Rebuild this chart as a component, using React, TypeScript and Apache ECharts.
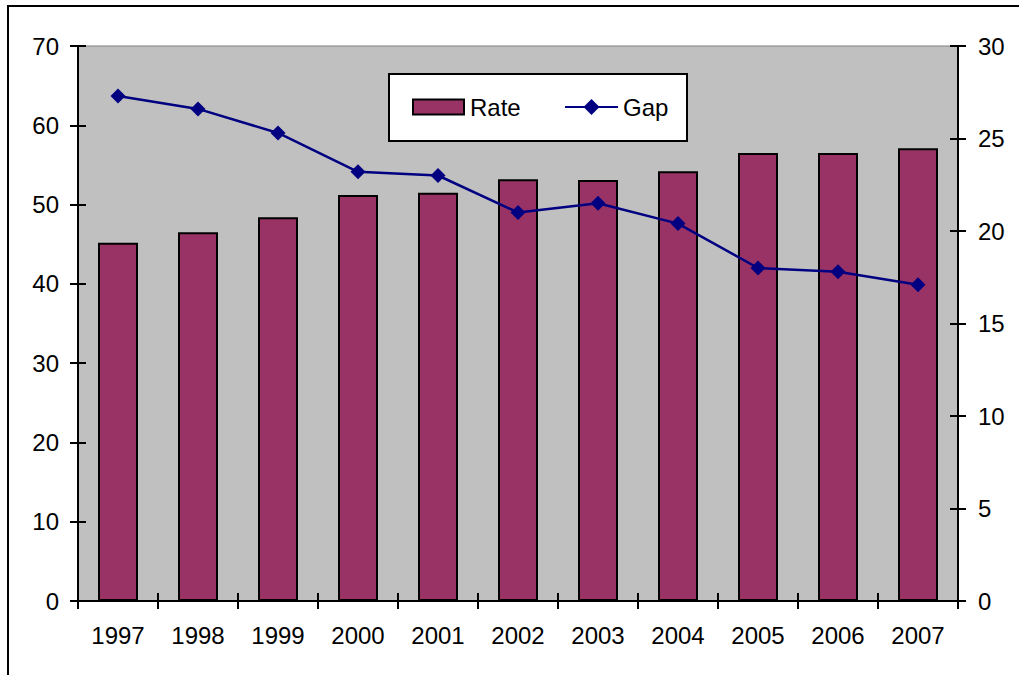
import React, { useEffect, useRef } from "react";
import * as echarts from "echarts";

const years = ["1997", "1998", "1999", "2000", "2001", "2002", "2003", "2004", "2005", "2006", "2007"];
const rate = [45.2, 46.5, 48.4, 51.2, 51.5, 53.2, 53.1, 54.2, 56.5, 56.5, 57.1];
const gap = [27.3, 26.6, 25.3, 23.2, 23.0, 21.0, 21.5, 20.4, 18.0, 17.8, 17.1];

const FONT = "'Liberation Sans', Arial, sans-serif";
const FS = 24;

export default function App() {
  const ref = useRef<HTMLDivElement>(null);
  useEffect(() => {
    document.body.style.margin = "0";
    const chart = echarts.init(ref.current!, undefined, { renderer: "svg" });
    const label = { color: "#000", fontFamily: FONT, fontSize: FS };
    const axisLine = { show: true, lineStyle: { color: "#000", width: 2 } };
    const tickOut = { show: true, length: 8, lineStyle: { color: "#000", width: 2 } };
    const tickIn = { show: true, inside: true, length: 8, lineStyle: { color: "#000", width: 2 } };
    chart.setOption({
      animation: false,
      backgroundColor: "#fff",
      textStyle: { fontFamily: FONT },
      grid: {
        left: 78,
        right: 61,
        top: 46,
        bottom: 74,
        show: true,
        backgroundColor: "#C0C0C0",
        borderColor: "#808080",
        borderWidth: 1,
      },
      graphic: [
        {
          type: "rect",
          shape: { x: 8, y: 6, width: 1200, height: 900 },
          style: { fill: "none", stroke: "#000", lineWidth: 2 },
          silent: true,
        },
        {
          type: "rect",
          z: 3,
          shape: { x: 389, y: 74, width: 298, height: 67 },
          style: { fill: "#fff", stroke: "#000", lineWidth: 2 },
          silent: true,
        },
      ],
      legend: [
        {
          left: 412,
          top: 95,
          padding: 0,
          itemWidth: 51,
          itemHeight: 15,
          textStyle: { ...label, padding: [0, 0, 0, 1] },
          data: [{ name: "Rate", icon: "rect" }],
        },
        {
          left: 564,
          top: 95,
          padding: 0,
          itemWidth: 53,
          itemHeight: 20,
          textStyle: { ...label, padding: [0, 0, 0, 0] },
          data: [{ name: "Gap" }],
        },
      ],
      xAxis: [
        {
          type: "category",
          data: years,
          boundaryGap: true,
          axisLine,
          axisTick: tickOut,
          axisLabel: { ...label, margin: 22 },
          splitLine: { show: false },
        },
        {
          type: "category",
          data: years,
          position: "bottom",
          boundaryGap: true,
          axisLine: { show: false },
          axisTick: tickIn,
          axisLabel: { show: false },
          splitLine: { show: false },
        },
      ],
      yAxis: [
        {
          type: "value",
          min: 0,
          max: 70,
          interval: 10,
          position: "left",
          axisLine,
          axisTick: tickOut,
          axisLabel: { ...label, margin: 19 },
          splitLine: { show: false },
        },
        {
          type: "value",
          min: 0,
          max: 30,
          interval: 5,
          position: "right",
          axisLine,
          axisTick: tickOut,
          axisLabel: { ...label, margin: 20 },
          splitLine: { show: false },
        },
        {
          type: "value",
          min: 0,
          max: 70,
          interval: 10,
          position: "left",
          axisLine: { show: false },
          axisTick: tickIn,
          axisLabel: { show: false },
          splitLine: { show: false },
        },
        {
          type: "value",
          min: 0,
          max: 30,
          interval: 5,
          position: "right",
          axisLine: { show: false },
          axisTick: tickIn,
          axisLabel: { show: false },
          splitLine: { show: false },
        },
      ],
      series: [
        {
          name: "Rate",
          type: "bar",
          data: rate,
          xAxisIndex: 0,
          yAxisIndex: 0,
          barWidth: "50%",
          itemStyle: { color: "#993366", borderColor: "#000", borderWidth: 2 },
        },
        {
          name: "Gap",
          type: "line",
          data: gap,
          xAxisIndex: 0,
          yAxisIndex: 1,
          symbol: "diamond",
          symbolSize: 15,
          lineStyle: { color: "#000080", width: 2.5 },
          itemStyle: { color: "#000080" },
          z: 5,
        },
      ],
    });
    return () => chart.dispose();
  }, []);
  return (
    <div
      ref={ref}
      style={{ position: "absolute", left: 0, top: 0, width: 1019, height: 675 }}
    />
  );
}
